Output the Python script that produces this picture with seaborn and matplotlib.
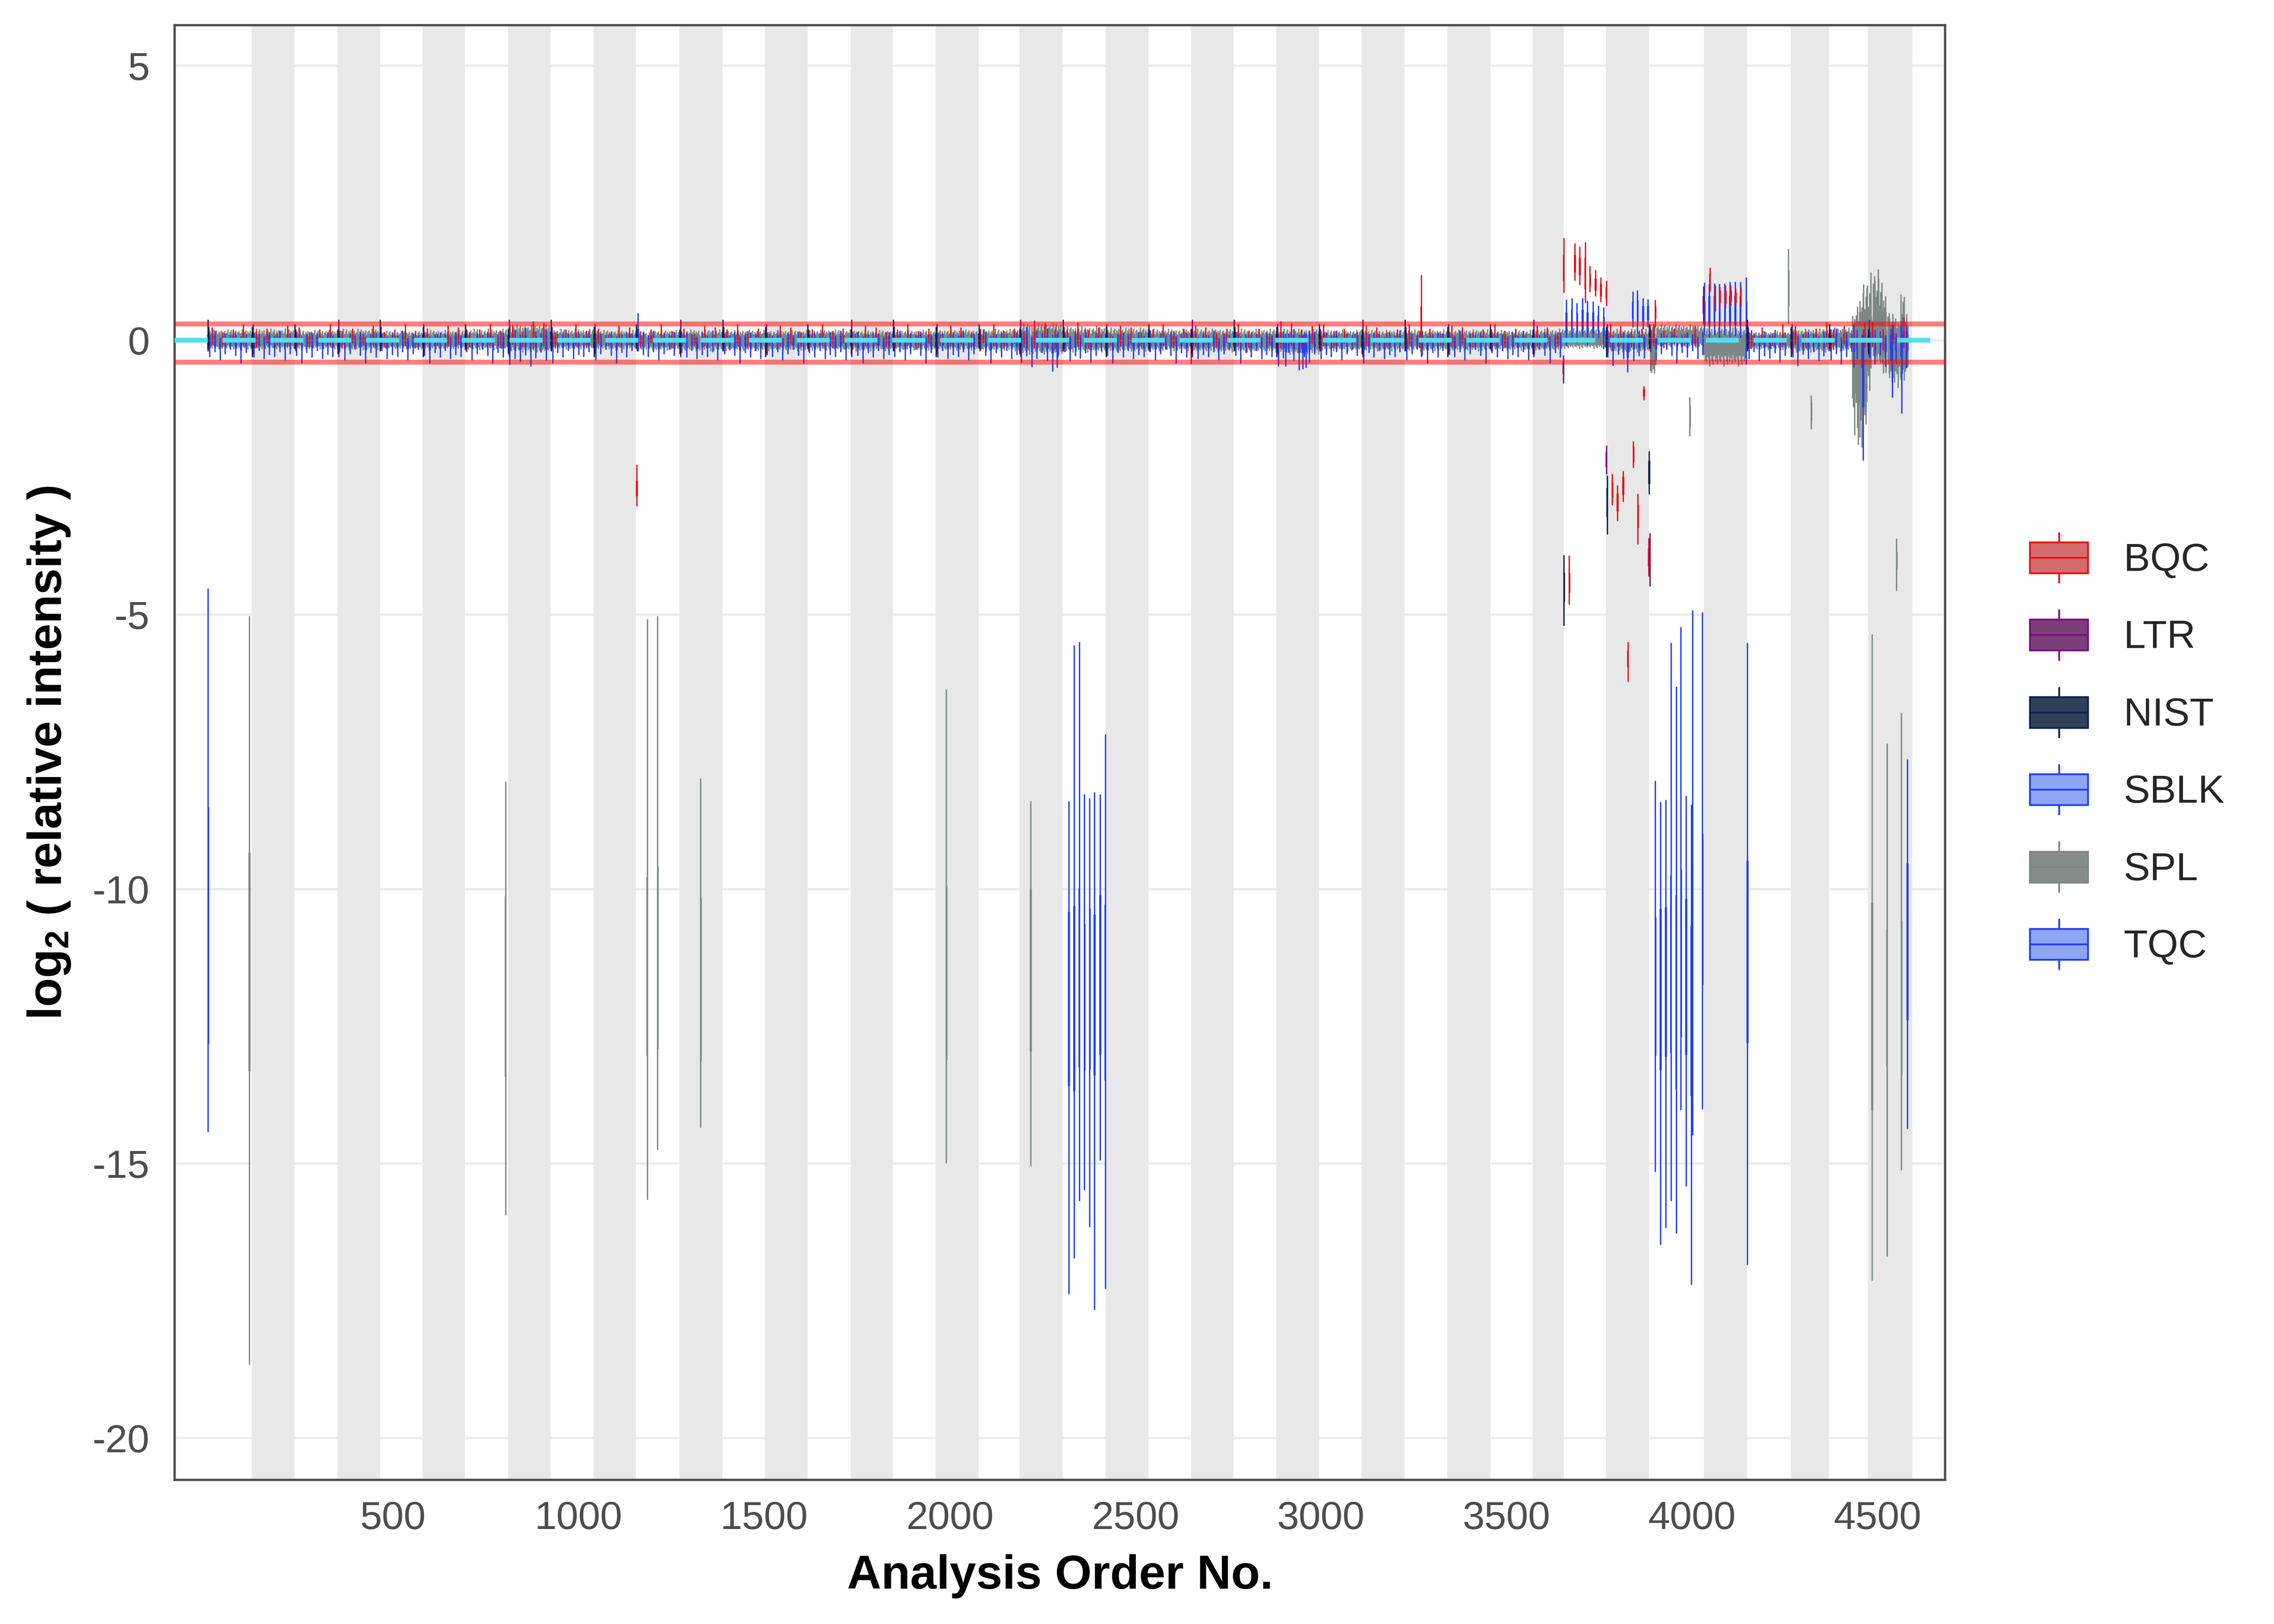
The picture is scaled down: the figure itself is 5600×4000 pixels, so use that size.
import numpy as np
import pandas as pd
import seaborn as sns
import matplotlib.pyplot as plt
from matplotlib.patches import Patch, Rectangle
from matplotlib.lines import Line2D
from matplotlib.legend_handler import HandlerBase
from matplotlib.ticker import FixedLocator

# ---------------------------------------------------------------- data
sample_types = ["BQC", "LTR", "NIST", "SBLK", "SPL", "TQC"]
fill_colors = ["#D36C6C", "#7A3F7B", "#2F4058", "#8FA6F5", "#858C8C", "#8FA6F5"]
line_colors = ["#E0141B", "#7C0C80", "#0D2352", "#1F3FFA", "#7D8787", "#1F3FFA"]

# batch boundaries (analysis order), every second batch is shaded
batch_edges = [1, 120, 235, 351, 465, 580, 694, 810, 925, 1041, 1155, 1272, 1388,
               1503, 1617, 1733, 1847, 1962, 2078, 2188, 2305, 2420, 2535, 2650,
               2765, 2880, 2995, 3110, 3226, 3341, 3456, 3570, 3654, 3768, 3884,
               4032, 4148, 4266, 4369, 4474, 4593]

# whisker extent of the study samples (SPL) in each batch
spl_low = [-0.15, -0.15, -0.15, -0.16, -0.15, -0.15, -0.16, -0.20,
           -0.15, -0.15, -0.17, -0.18, -0.18, -0.18, -0.17, -0.18,
           -0.17, -0.17, -0.18, -0.24, -0.20, -0.19, -0.18, -0.20,
           -0.20, -0.24, -0.18, -0.18, -0.18, -0.18, -0.17, -0.17,
           -0.16, -0.20, -0.15, -0.40, -0.16, -0.20, -0.20, -0.80]
spl_high = [0.19, 0.20, 0.18, 0.20, 0.17, 0.18, 0.20, 0.27,
            0.20, 0.18, 0.18, 0.19, 0.18, 0.18, 0.19, 0.18,
            0.18, 0.19, 0.20, 0.30, 0.24, 0.22, 0.20, 0.20,
            0.20, 0.20, 0.18, 0.18, 0.19, 0.19, 0.18, 0.20,
            0.19, 0.20, 0.24, 0.26, 0.16, 0.20, 0.20, 1.00]
spl_mid = [0, 0, 0, 0, 0, 0, 0, 0, 0, 0, 0, 0, 0, 0, 0, 0, 0, 0, 0, 0,
           0, 0, 0, 0, 0, 0, 0, 0, 0, 0, 0, 0, 0.02, 0, 0.04, -0.04, 0, 0, 0.02, 0]
# spread of the routine QC injections per batch (0 = only the listed ones)
qc_spread = [1.0, 1.0, 1.0, 1.0, 1.0, 1.0, 1.0, 1.3, 1.0, 1.0, 1.0, 1.0, 1.0,
             1.0, 1.0, 1.0, 1.0, 1.0, 1.0, 1.35, 1.1, 1.0, 1.0, 1.0, 1.0, 1.3,
             1.0, 1.0, 1.0, 1.0, 1.0, 1.0, 0.0, 1.1, 1.0, 0.0, 1.1, 1.1, 1.2, 1.4]

# ragged look of the sample mass, read as relative heights of neighbouring boxes
spl_texture = [1.0, 0.62, 0.86, 0.71, 0.95, 0.55, 0.8, 0.9, 0.66, 0.76, 1.08, 0.6, 0.84]
tqc_low_cycle = [-0.30, -0.21, -0.36, -0.25, -0.17, -0.28, -0.42, -0.23, -0.31, -0.19, -0.34, -0.26]
tqc_high_cycle = [0.12, 0.07, 0.15, 0.09, 0.18, 0.05, 0.13, 0.10, 0.16, 0.08, 0.11, 0.14]
bqc_low_cycle = [-0.08, -0.12, -0.05, -0.10, -0.14, -0.06, -0.09, -0.11]
bqc_high_cycle = [0.24, 0.15, 0.20, 0.30, 0.17, 0.22, 0.12, 0.27]
ref_low_cycle = [-0.20, -0.30, -0.15, -0.25]
ref_high_cycle = [0.38, 0.25, 0.30, 0.20]

# last stretch of the run where the samples drift
tail_start = [4432, 4442, 4452, 4462, 4472, 4482, 4492, 4502, 4512, 4522, 4532, 4542, 4552, 4562, 4572]
tail_low = [-1.6, -1.9, -2.05, -1.7, -0.85, -0.45, -0.4, -0.45, -0.55, -0.7, -0.8, -0.85, -0.8, -0.85, -0.6]
tail_high = [0.45, 0.65, 0.8, 0.95, 1.0, 1.3, 1.2, 1.05, 0.85, 0.55, 0.45, 0.4, 0.38, 0.88, 0.45]

# individual injections that stand out: (order, min, q1, median, q3, max)
spl_boxes = [
    (113, -18.66, -13.3, -11.3, -9.34, -5.02), (803, -15.94, -13.4, -11.8, -10.14, -8.04),
    (1185, -15.66, -13.02, -11.4, -9.79, -5.08), (1213, -14.75, -12.89, -11.2, -9.59, -5.02),
    (1329, -14.34, -13.12, -11.6, -10.17, -7.98), (1991, -14.99, -13.1, -11.5, -9.94, -6.36),
    (2218, -15.04, -12.94, -11.5, -10.02, -8.39), (4485, -17.13, -14.01, -12.1, -10.26, -5.35),
    (4525, -16.69, -13.21, -12.0, -10.74, -7.34), (4551, -4.56, -4.16, -4.0, -3.86, -3.61),
    (4564, -15.12, -13.37, -12.0, -10.59, -6.79), (4260, 0.3, 0.64, 0.95, 1.26, 1.67),
    (3994, -1.74, -1.55, -1.4, -1.2, -1.03), (4321, -1.62, -1.45, -1.3, -1.15, -1.0),
    (3888, -0.55, -0.4, -0.25, -0.1, 0.05), (3891, -0.59, -0.45, -0.3, -0.15, 0.02),
    (3895, -0.52, -0.38, -0.25, -0.1, 0.04), (3898, -0.6, -0.42, -0.28, -0.12, 0.03),
    (3902, -0.45, -0.32, -0.2, -0.08, 0.05),
]
sblk_boxes = [
    (2, -14.42, -12.8, -10.6, -8.52, -4.52),
    (2321, -17.37, -13.57, -12.0, -10.42, -8.39), (2335, -16.72, -13.66, -12.0, -10.32, -5.55),
    (2349, -15.68, -13.22, -11.6, -9.99, -5.49), (2363, -15.48, -13.29, -12.0, -10.64, -8.27),
    (2377, -16.15, -13.27, -11.8, -10.36, -8.34), (2390, -17.66, -13.38, -11.9, -10.47, -8.23),
    (2405, -14.94, -13.0, -11.5, -10.12, -8.27), (2419, -17.28, -13.47, -11.9, -10.29, -7.17),
    (3901, -15.15, -13.02, -11.8, -10.52, -8.02), (3915, -16.48, -13.28, -11.8, -10.37, -8.41),
    (3929, -16.17, -13.04, -11.7, -10.34, -8.37), (3943, -15.68, -12.97, -11.4, -9.76, -5.51),
    (3957, -16.27, -13.63, -11.9, -10.12, -6.31), (3970, -14.02, -12.68, -11.2, -9.65, -5.22),
    (3984, -15.41, -13.0, -11.6, -10.18, -8.3), (3998, -17.2, -13.75, -12.2, -10.67, -8.46),
    (4001, -14.48, -12.4, -10.8, -9.18, -4.92), (4028, -14.01, -11.73, -10.4, -9.01, -4.95),
    (4149, -16.84, -12.79, -11.1, -9.49, -5.51), (4580, -14.36, -12.37, -11.0, -9.53, -7.63),
]
tqc_boxes = [
    (1160, -0.2, -0.05, 0.05, 0.2, 0.5), (2289, -0.49, -0.2, -0.05, 0.05, 0.12),
    (2905, -0.47, -0.2, -0.05, 0.05, 0.12), (2951, -0.52, -0.22, -0.06, 0.05, 0.1),
    (2960, -0.5, -0.2, -0.05, 0.05, 0.12),
    (3661, -0.1, 0.15, 0.35, 0.5, 0.74), (3676, 0.05, 0.2, 0.38, 0.55, 0.77),
    (3690, -0.05, 0.15, 0.3, 0.48, 0.68), (3705, 0.07, 0.2, 0.4, 0.55, 0.77),
    (3718, -0.1, 0.15, 0.32, 0.5, 0.72), (3733, 0.0, 0.15, 0.33, 0.5, 0.71),
    (3747, 0.05, 0.18, 0.3, 0.45, 0.63), (3762, -0.15, 0.1, 0.28, 0.42, 0.6),
    (3826, -0.58, -0.3, -0.15, 0.0, 0.1), (3840, 0.24, 0.4, 0.55, 0.7, 0.89),
    (3853, 0.13, 0.35, 0.55, 0.72, 0.91), (3868, 0.2, 0.35, 0.5, 0.62, 0.77),
    (3881, 0.24, 0.38, 0.5, 0.62, 0.75),
    (4033, 0.1, 0.3, 0.5, 0.7, 1.05), (4046, 0.05, 0.3, 0.55, 0.8, 1.03),
    (4060, 0.1, 0.35, 0.55, 0.8, 1.04), (4074, 0.05, 0.3, 0.55, 0.8, 1.03),
    (4088, 0.1, 0.35, 0.6, 0.8, 1.04), (4102, 0.0, 0.3, 0.55, 0.8, 1.07),
    (4116, 0.08, 0.3, 0.55, 0.8, 1.07), (4130, 0.05, 0.3, 0.55, 0.8, 1.07),
    (4146, -0.44, -0.1, 0.3, 0.7, 1.15),
    (4436, -0.49, -0.2, 0.0, 0.15, 0.3), (4461, -2.19, -1.2, -0.5, 0.0, 0.2),
    (4539, -1.04, -0.5, -0.2, 0.1, 0.3), (4565, -1.33, -0.6, -0.2, 0.1, 0.35),
    (4578, -0.5, -0.2, 0.0, 0.15, 0.3),
]
bqc_boxes = [
    (1157, -3.02, -2.82, -2.7, -2.57, -2.26), (2650, -0.43, -0.1, 0.0, 0.1, 0.22),
    (3270, -0.3, 0.0, 0.3, 0.6, 1.19),
    (3654, 0.87, 1.1, 1.3, 1.55, 1.87), (3684, 1.09, 1.25, 1.4, 1.55, 1.77),
    (3697, 1.01, 1.2, 1.35, 1.5, 1.71), (3712, 0.68, 0.95, 1.2, 1.5, 1.79),
    (3725, 0.88, 1.0, 1.1, 1.2, 1.36), (3740, 0.8, 0.92, 1.02, 1.12, 1.28),
    (3754, 0.7, 0.82, 0.92, 1.02, 1.15), (3769, 0.63, 0.76, 0.86, 0.96, 1.09),
    (3669, -4.81, -4.58, -4.4, -4.24, -3.92), (3785, -3.0, -2.85, -2.7, -2.6, -2.43),
    (3799, -3.29, -3.1, -2.95, -2.8, -2.64), (3814, -2.94, -2.8, -2.65, -2.5, -2.38),
    (3827, -6.22, -5.94, -5.8, -5.66, -5.49), (3842, -2.32, -2.2, -2.1, -1.95, -1.84),
    (3854, -3.72, -3.4, -3.2, -3.0, -2.79), (3870, -1.09, -1.0, -0.95, -0.9, -0.83),
    (3883, -4.3, -4.1, -3.95, -3.8, -3.6), (3901, 0.24, 0.4, 0.5, 0.6, 0.74),
    (4048, 0.89, 1.0, 1.1, 1.2, 1.33), (4062, 0.53, 0.65, 0.78, 0.88, 1.0),
    (4075, 0.61, 0.7, 0.8, 0.9, 0.98), (4090, 0.58, 0.68, 0.8, 0.9, 1.0),
    (4104, 0.64, 0.72, 0.82, 0.9, 1.0), (4117, 0.61, 0.7, 0.78, 0.86, 0.95),
    (4131, 0.61, 0.7, 0.8, 0.88, 0.98),
]
ltr_boxes = [
    (3653, -0.78, -0.6, -0.5, -0.4, -0.27), (3769, -2.44, -2.3, -2.2, -2.05, -1.91),
    (3886, -4.48, -4.2, -4.0, -3.8, -3.51), (4031, 0.3, 0.5, 0.65, 0.8, 0.99),
]
nist_boxes = [
    (3655, -5.2, -4.75, -4.5, -4.24, -3.91), (3771, -3.53, -3.2, -3.0, -2.7, -2.46),
    (3884, -2.8, -2.6, -2.4, -2.2, -2.02),
]

upper_limit, lower_limit = 0.3, -0.4

# ---------------------------------------------------------------- assemble per-injection values
boxes = {t: {} for t in sample_types}


def put(kind, order, lo, q1, med, q3, hi):
    boxes[kind][order] = [lo, q1, med, q3, hi]


first_tail = tail_start[0]
for b in range(len(batch_edges) - 1):
    start, end = batch_edges[b], batch_edges[b + 1]
    m = spl_mid[b]
    for pos in range(start, min(end, first_tail), 3):
        ta = spl_texture[(pos // 3) % len(spl_texture)]
        tb = spl_texture[(pos // 3 + 5) % len(spl_texture)]
        lo, hi = spl_low[b] * ta, spl_high[b] * tb
        put("SPL", pos, m + lo, m + 0.35 * lo, m, m + 0.35 * hi, m + hi)
    s = qc_spread[b]
    if s == 0:
        continue
    for pos in range(start + 5, end - 2, 14):
        i = pos // 14
        lo = tqc_low_cycle[i % len(tqc_low_cycle)] * s
        hi = tqc_high_cycle[(i + 3) % len(tqc_high_cycle)] * s
        put("TQC", pos, lo, 0.4 * lo, 0.0, 0.4 * hi, hi)
    for pos in range(start + 12, end - 2, 28):
        i = pos // 28
        lo = bqc_low_cycle[i % len(bqc_low_cycle)] * s
        hi = bqc_high_cycle[i % len(bqc_high_cycle)] * s
        put("BQC", pos, lo, 0.4 * lo, 0.02, 0.4 * hi, hi)
    lo, hi = ref_low_cycle[b % 4], ref_high_cycle[b % 4]
    put("NIST", start + 1, lo, 0.4 * lo, 0.0, 0.4 * hi, hi)
    lo, hi = ref_low_cycle[(b + 2) % 4], ref_high_cycle[(b + 1) % 4]
    put("LTR", start + 3, lo, 0.4 * lo, 0.0, 0.4 * hi, hi)

for seg, lo_seg, hi_seg in zip(tail_start, tail_low, tail_high):
    for pos in range(seg, seg + 10, 3):
        ta = spl_texture[(pos // 3) % len(spl_texture)]
        tb = spl_texture[(pos // 3 + 5) % len(spl_texture)]
        lo, hi = lo_seg * ta, hi_seg * tb
        put("SPL", pos, lo, 0.35 * lo, 0.0, 0.35 * hi, hi)

for kind, rows in [("SPL", spl_boxes), ("SBLK", sblk_boxes), ("TQC", tqc_boxes),
                   ("BQC", bqc_boxes), ("LTR", ltr_boxes), ("NIST", nist_boxes)]:
    for row in rows:
        put(kind, *row)

frames = {}
for kind, d in boxes.items():
    orders = np.repeat(list(d.keys()), 5)
    values = np.concatenate([v for v in d.values()])
    frames[kind] = pd.DataFrame({"order": orders, "value": values})

# ---------------------------------------------------------------- plot
sns.set_style("white")
plt.rcParams["font.family"] = ["Liberation Sans", "DejaVu Sans"]
plt.rcParams["mathtext.fontset"] = "custom"
plt.rcParams["mathtext.rm"] = "Liberation Sans"
plt.rcParams["mathtext.bf"] = "Liberation Sans:bold"
plt.rcParams["axes.unicode_minus"] = False

fig = plt.figure(figsize=(14, 10), dpi=400)
ax = fig.add_axes([0.0768, 0.0888, 0.7786, 0.8956])
ax.set_axisbelow(True)
ax.yaxis.grid(True, color="#EBEBEB", linewidth=1.0)
ax.xaxis.grid(False)

for b in range(1, len(batch_edges) - 1, 2):
    ax.axvspan(batch_edges[b], batch_edges[b + 1], color="#E8E8E8", lw=0, zorder=0.8)

draw_order = ["SPL", "SBLK", "TQC", "BQC", "LTR", "NIST"]
for kind in draw_order:
    k = sample_types.index(kind)
    df = frames[kind]
    pos = np.unique(df["order"])
    native = np.diff(pos).min() if len(pos) > 1 else 1
    sns.boxplot(data=df, x="order", y="value", native_scale=True, orient="x",
                color=fill_colors[k], linecolor=line_colors[k], saturation=1,
                whis=(0, 100), width=1.6 / native, linewidth=0.6,
                showcaps=False, legend=False, ax=ax)

ax.axhline(upper_limit, color="#FF0000", alpha=0.5, lw=2.2, zorder=5)
ax.axhline(lower_limit, color="#FF0000", alpha=0.5, lw=2.2, zorder=5)
ax.axhline(0, color="#52DEF0", lw=2.1, linestyle=(0, (7.0, 3.1)), zorder=6)

ax.set_xlim(-88, 4682)
ax.set_ylim(-20.76, 5.74)
ax.xaxis.set_major_locator(FixedLocator([500, 1000, 1500, 2000, 2500, 3000, 3500, 4000, 4500]))
ax.xaxis.set_minor_locator(FixedLocator([0, 250, 750, 1250, 1750, 2250, 2750, 3250, 3750, 4250]))
ax.set_yticks([-20, -15, -10, -5, 0, 5])
ax.tick_params(axis="x", which="major", length=6, width=0.9, color="#4D4D4D",
               labelsize=17.5, labelcolor="#4D4D4D", pad=3.3)
ax.tick_params(axis="x", which="minor", length=4.5, width=0.9, color="#4D4D4D")
ax.tick_params(axis="y", which="major", length=5.6, width=0.9, color="#4D4D4D",
               labelsize=17.5, labelcolor="#4D4D4D", pad=5.5)
for side in ax.spines.values():
    side.set_color("#4D4D4D")
    side.set_linewidth(1.0)

ax.set_xlabel("Analysis Order No.", fontsize=21, fontweight="bold", color="black", labelpad=7.5)
ax.set_ylabel(r"$\mathbf{log_2}$ ( relative intensity )", fontsize=21,
              fontweight="bold", color="black", labelpad=9)


class BoxKey(HandlerBase):
    def create_artists(self, legend, handle, xd, yd, w, h, fontsize, trans):
        fc, ec = handle.get_facecolor(), handle.get_edgecolor()
        x0, y0 = -xd, -yd
        box = Rectangle((x0, y0 + 0.19 * h), w, 0.62 * h, facecolor=fc,
                        edgecolor=ec, lw=0.8, transform=trans)
        med = Line2D([x0, x0 + w], [y0 + h / 2] * 2, color=ec, lw=0.8, transform=trans)
        w_lo = Line2D([x0 + w / 2] * 2, [y0, y0 + 0.19 * h], color=ec, lw=0.8, transform=trans)
        w_hi = Line2D([x0 + w / 2] * 2, [y0 + 0.81 * h, y0 + h], color=ec, lw=0.8, transform=trans)
        return [box, med, w_lo, w_hi]


handles = [Patch(facecolor=f, edgecolor=e, label=t)
           for t, f, e in zip(sample_types, fill_colors, line_colors)]
fig.legend(handles=handles, handler_map={Patch: BoxKey()}, loc="center left",
           bbox_to_anchor=(0.8926, 0.5375), frameon=False, fontsize=17.5,
           handlelength=1.48, handleheight=1.56, labelspacing=0.7,
           handletextpad=0.9, borderpad=0, borderaxespad=0)

fig.savefig("out.png", dpi=400)
